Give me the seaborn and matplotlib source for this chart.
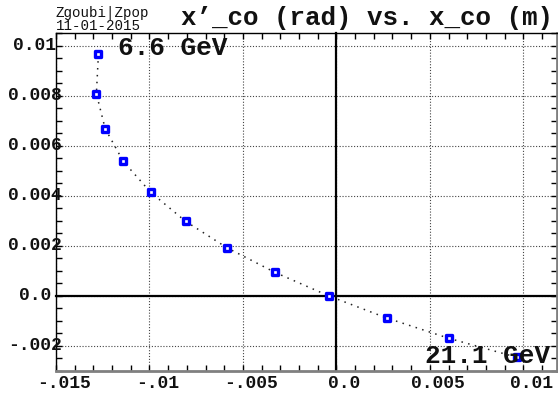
import numpy as np
import pandas as pd
import seaborn as sns
import matplotlib
matplotlib.use("Agg")
import matplotlib.pyplot as plt
from matplotlib.ticker import MultipleLocator
from matplotlib.transforms import blended_transform_factory, ScaledTranslation

# Closed-orbit position and angle, one point per energy (6.6 GeV ... 21.1 GeV)
x_co = [-0.01273, -0.01284, -0.01237, -0.01140, -0.00994, -0.00807,
        -0.00585, -0.00329, -0.00041, 0.00268, 0.00604, 0.00964]
xp_co = [0.00965, 0.00808, 0.00668, 0.00537, 0.00414, 0.00298,
         0.00192, 0.00094, 0.00000, -0.00088, -0.00170, -0.00245]

x_ticks = [-0.015, -0.01, -0.005, 0.0, 0.005, 0.01]
x_tick_labels = ["-.015", "-.01", "-.005", "0.0", "0.005", "0.01"]
y_ticks = [-0.002, 0.0, 0.002, 0.004, 0.006, 0.008, 0.01]
y_tick_labels = ["-.002", "0.0", "0.002", "0.004", "0.006", "0.008", "0.01"]

title = "x\u2019_co (rad) vs. x_co (m)"
energy_low = "6.6 GeV"
energy_high = "21.1 GeV"
stamp_top = "Zgoubi|Zpop"
stamp_date = "11-01-2015"

sns.set_style("white")
plt.rcParams["font.family"] = ["Liberation Mono", "DejaVu Sans Mono"]

W, H = 558, 393
fig = plt.figure(figsize=(W / 100, H / 100), dpi=100)
fig.patch.set_facecolor("white")
pos = [56 / W, (H - 371) / H, (557 - 56) / W, (371 - 33) / H]

# Background axes: white panel, dotted grid and the zero axes with crossing ticks
ax_bg = fig.add_axes(pos)
ax_bg.set_xlim(-0.015, 0.0118)
ax_bg.set_ylim(-0.003, 0.0105)
ax_bg.xaxis.set_major_locator(MultipleLocator(0.005))
ax_bg.xaxis.set_minor_locator(MultipleLocator(0.001))
ax_bg.yaxis.set_major_locator(MultipleLocator(0.002))
ax_bg.yaxis.set_minor_locator(MultipleLocator(0.0005))
ax_bg.grid(True, which="major", color="#444444", lw=0.8, linestyle=(0, (1, 1.6)))
for s in ["top", "right"]:
    ax_bg.spines[s].set_visible(False)
ax_bg.spines["left"].set_position(("data", 0))
ax_bg.spines["bottom"].set_position(("data", 0))
for s in ["left", "bottom"]:
    ax_bg.spines[s].set_color("black")
    ax_bg.spines[s].set_linewidth(1.6)
ax_bg.tick_params(which="both", direction="inout", length=5, width=1.1, color="black",
                  labelleft=False, labelbottom=False)

# Foreground axes: frame, inward ticks and the data
ax = fig.add_axes(pos, sharex=ax_bg, sharey=ax_bg)
ax.patch.set_visible(False)
df = pd.DataFrame({"x": x_co, "xp": xp_co})
sns.lineplot(data=df, x="x", y="xp", sort=False, ax=ax, color="#222222",
             lw=1.1, linestyle=(0, (1, 3.5)), zorder=2)
sns.scatterplot(data=df, x="x", y="xp", ax=ax, marker="s", s=18, color="white",
                edgecolor="#0000ff", linewidth=2.4, zorder=3)
ax.set(xlabel="", ylabel="")
ax.grid(False)
ax.tick_params(which="both", direction="in", length=4.5, width=1, color="black",
               top=True, right=True, bottom=True, left=True,
               labelleft=False, labelbottom=False)
for s in ["left", "top"]:
    ax.spines[s].set_color("black")
    ax.spines[s].set_linewidth(1.0)
for s in ["bottom", "right"]:
    ax.spines[s].set_color("#808080")
    ax.spines[s].set_linewidth(2.0)

label_kw = dict(fontsize=13, fontweight="bold", color="#111111")

# Tick labels
tx = blended_transform_factory(ax.transData, fig.transFigure)
shift = ScaledTranslation(8 / 100, 0, fig.dpi_scale_trans)
for v, lab in zip(x_ticks, x_tick_labels):
    ax.text(v, 1 - 383 / H, lab, transform=tx + shift, ha="center", va="center", **label_kw)
ty = blended_transform_factory(fig.transFigure, ax.transData)
for v, lab in zip(y_ticks, y_tick_labels):
    ax.text(35 / W, v, lab, transform=ty, ha="center", va="center", **label_kw)

# Title, energy annotations and stamp
fig.text(367 / W, 1 - 25 / H, title, ha="center", va="baseline",
         fontsize=18.6, fontweight="bold", color="#111111")
fig.text(118 / W, 1 - 55 / H, energy_low, ha="left", va="baseline",
         fontsize=18.8, fontweight="bold", color="#111111", zorder=5)
fig.text(425 / W, 1 - 363 / H, energy_high, ha="left", va="baseline",
         fontsize=18.8, fontweight="bold", color="#111111", zorder=5)
fig.text(56 / W, 1 - 16.5 / H, stamp_top, ha="left", va="baseline",
         fontsize=10.2, color="#111111")
fig.text(56 / W, 1 - 30 / H, stamp_date, ha="left", va="baseline",
         fontsize=10.2, color="#111111")

fig.savefig("out.png", dpi=100, facecolor="white")
